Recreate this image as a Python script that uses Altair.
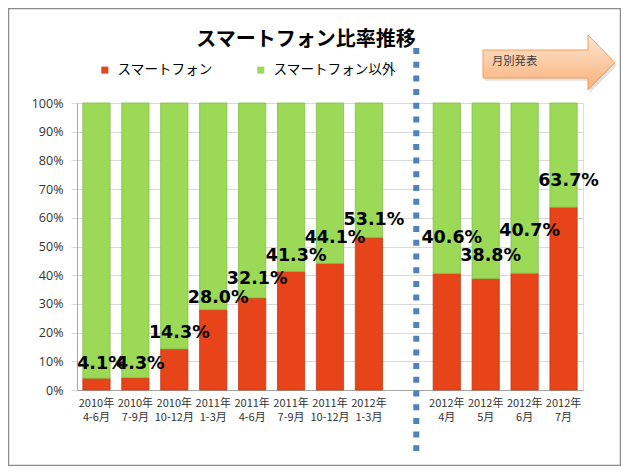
import altair as alt
import pandas as pd

# ---- data ----
years = ["2010年", "2010年", "2010年", "2011年", "2011年", "2011年", "2011年", "2012年",
         "2012年", "2012年", "2012年", "2012年"]
periods = ["4-6月", "7-9月", "10-12月", "1-3月", "4-6月", "7-9月", "10-12月", "1-3月",
           "4月", "5月", "6月", "7月"]
smartphone_share = [4.1, 4.3, 14.3, 28.0, 32.1, 41.3, 44.1, 53.1, 40.6, 38.8, 40.7, 63.7]
# level (in % of the axis) at which each value label sits in the reference
label_level_pct = [9.1, 9.1, 19.9, 32.1, 38.7, 46.7, 52.9, 59.2, 52.9, 46.7, 55.4, 72.8]
series_names = ["スマートフォン", "スマートフォン以外"]
title_text = "スマートフォン比率推移"
arrow_text = "月別発表"
y_tick_pct = [0, 10, 20, 30, 40, 50, 60, 70, 80, 90, 100]
gap_after = 8  # quarterly data ends after the 8th category

categories = [f"{y}\n{p}" for y, p in zip(years, periods)]
gap_cat = " "
domain = categories[:gap_after] + [gap_cat] + categories[gap_after:]

rows = []
for c, s in zip(categories, smartphone_share):
    rows.append({"cat": c, "series": series_names[0], "value": s, "ord": 0})
    rows.append({"cat": c, "series": series_names[1], "value": round(100 - s, 1), "ord": 1})
long_df = pd.DataFrame(rows)
label_df = pd.DataFrame({
    "cat": categories,
    "lv": label_level_pct,
    "label": [f"{v:.1f}%" for v in smartphone_share],
})
gap_df = pd.DataFrame({"cat": [gap_cat]})
one = alt.Data(values=[{"k": 0}])

RED = "#E8441A"
GREEN = "#9BD957"

xscale = alt.Scale(domain=domain, paddingInner=0.3, paddingOuter=0.15)
yscale = alt.Scale(domain=[0, 100], nice=False)

x_axis = alt.Axis(
    title=None, labelAngle=0, ticks=False, labelPadding=7,
    labelExpr="split(datum.label, '\\n')",
    labelFont="Noto Sans CJK JP", labelFontSize=11, labelColor="#333333",
    labelLineHeight=14.5, domainColor="#A6A6A6", grid=False,
)
y_axis = alt.Axis(
    title=None, values=y_tick_pct, labelExpr="datum.value + '%'", labelOverlap=False,
    labelFont="Open Sans", labelFontSize=12.5, labelColor="#333333",
    labelPadding=8, tickSize=6, tickColor="#D9D9D9",
    gridColor="#D9D9D9", domainColor="#A6A6A6",
)

bars = alt.Chart(long_df).mark_bar(strokeWidth=0.8).encode(
    x=alt.X("cat:N", scale=xscale, axis=x_axis, sort=domain),
    y=alt.Y("value:Q", stack="zero", scale=yscale, axis=y_axis),
    color=alt.Color(
        "series:N",
        scale=alt.Scale(domain=series_names, range=[RED, GREEN]),
        legend=alt.Legend(
            title=None, orient="none", legendX=21, legendY=-40, direction="horizontal",
            symbolType="square", symbolSize=49, symbolStrokeWidth=0,
            labelFont="Noto Sans CJK JP", labelFontSize=13.6, labelColor="#000000",
            labelOffset=6, columnPadding=41,
        ),
    ),
    stroke=alt.Stroke(
        "series:N",
        scale=alt.Scale(domain=series_names, range=["#C23A16", "#80BF45"]),
        legend=None,
    ),
    order=alt.Order("ord:Q"),
)

labels = alt.Chart(label_df).mark_text(
    font="DejaVu Sans", fontWeight="bold", fontSize=17.5, color="#000000",
    dx=5, baseline="middle", align="center",
).encode(
    x=alt.X("cat:N", scale=xscale, axis=x_axis, sort=domain),
    y=alt.Y("lv:Q", scale=yscale, axis=y_axis),
    text="label:N",
)

divider = alt.Chart(gap_df).mark_rule(
    strokeDash=[6, 7.7], strokeWidth=6, color="#4F81BD", strokeCap="butt",
).encode(
    x=alt.X("cat:N", scale=xscale, axis=x_axis, sort=domain, bandPosition=0.81),
    y=alt.value(-55), y2=alt.value(348),
)

title = alt.Chart(one).mark_text(
    font="Noto Sans CJK JP", fontWeight="bold", fontSize=20, color="#000000",
    align="center", baseline="middle",
).encode(x=alt.value(229), y=alt.value(-63.5), text=alt.value(title_text))

arrow_path = "M0,-12.7 L105,-12.7 L105,-27.7 L132,0 L105,27.3 L105,15.3 L0,15.3 Z"
arrow_shadow = alt.Chart(one).mark_point(
    shape=arrow_path, size=4, filled=True, fill="#BFBFBF", opacity=0.45, strokeWidth=0,
).encode(x=alt.value(408), y=alt.value(-37.5))
arrow = alt.Chart(one).mark_point(
    shape=arrow_path, size=4, filled=True, opacity=1,
    fill=alt.LinearGradient(
        gradient="linear", x1=0, y1=0, x2=0, y2=1,
        stops=[alt.GradientStop(offset=0, color="#FDE6D0"),
               alt.GradientStop(offset=1, color="#F9B07A")],
    ),
    stroke="#F59D56", strokeWidth=1,
).encode(x=alt.value(406), y=alt.value(-40.3))
arrow_label = alt.Chart(one).mark_text(
    font="Noto Sans CJK JP", fontSize=11.3, color="#404040", align="left", baseline="middle",
).encode(x=alt.value(415), y=alt.value(-41.3), text=alt.value(arrow_text))

border = alt.Chart(one).mark_rect(
    fillOpacity=0, stroke="#8C8C8C", strokeWidth=1.5,
).encode(x=alt.value(-68.5), x2=alt.value(543.5), y=alt.value(-94.5), y2=alt.value(362.5))

chart = alt.layer(
    border, bars, labels, divider, title, arrow_shadow, arrow, arrow_label
).properties(
    width=506, height=287,
    autosize=alt.AutoSizeParams(type="none"),
    padding={"left": 69, "top": 95, "right": 38, "bottom": 76},
).configure_view(stroke=None).configure(background="white")

chart.save("out.html", embed_options={"renderer": "svg", "actions": False})
